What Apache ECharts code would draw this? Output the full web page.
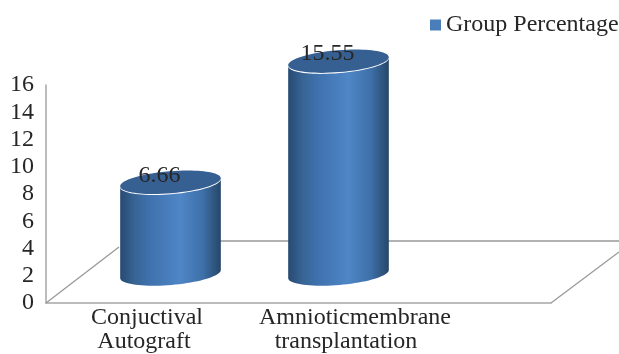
<!DOCTYPE html>
<html>
<head>
<meta charset="utf-8">
<style>html,body{margin:0;padding:0;background:#fff}#chart{width:619px;height:354px}</style>
<script src="https://cdn.jsdelivr.net/npm/echarts@6/dist/echarts.min.js"></script>
</head>
<body>
<div id="chart"></div>
<script>
// Group percentage per graft type
const categories = ['Conjuctival\nAutograft', 'Amnioticmembrane\ntransplantation'];
const groupPercentage = [6.66, 15.55];
const yTicks = [0, 16];
const seriesName = 'Group Percentage';

const FONT = '"Liberation Serif", "Times New Roman", serif';
const TEXT = '#262626';
const CYL_W = 101;       // cylinder diameter
const CAP_RY = 11;       // cap half height
const TILT = -0.084;     // slope of the caps, radians

function ellipsePoint(cx, cy, t) {
  const a = CYL_W / 2 * Math.cos(t), b = CAP_RY * Math.sin(t);
  return [cx + a * Math.cos(TILT) - b * Math.sin(TILT), cy + a * Math.sin(TILT) + b * Math.cos(TILT)];
}

function renderCylinder(params, api) {
  const i = api.value(0), v = api.value(1);
  const base = api.coord([i, 0]), top = api.coord([i, v]);
  const pts = [];
  // lower half of the base, then back up over the top edge
  for (let k = 0; k <= 40; k++) pts.push(ellipsePoint(base[0], base[1], Math.PI - Math.PI * k / 40));
  for (let k = 0; k <= 40; k++) pts.push(ellipsePoint(top[0], top[1], Math.PI * k / 40));
  return {
    type: 'group',
    children: [
      {
        type: 'polygon',
        shape: { points: pts },
        style: {
          fill: new echarts.graphic.LinearGradient(0, 0, 1, 0, [
            { offset: 0, color: '#274a72' },
            { offset: 0.14, color: '#376494' },
            { offset: 0.3, color: '#3f72ae' },
            { offset: 0.6, color: '#4f86c6' },
            { offset: 0.82, color: '#3e70a9' },
            { offset: 1, color: '#264668' }
          ])
        }
      },
      {
        type: 'ellipse',
        shape: { cx: 0, cy: 0, rx: CYL_W / 2, ry: CAP_RY },
        x: top[0], y: top[1] - 1, rotation: -TILT,
        style: { fill: '#376092' }
      },
      {
        type: 'text',
        x: top[0] - 11, y: top[1] - 8,
        style: { text: v.toFixed(2), font: '24px ' + FONT, fill: TEXT, align: 'center', verticalAlign: 'middle' }
      }
    ]
  };
}

const chart = echarts.init(document.getElementById('chart'), null, { renderer: 'canvas' });
chart.setOption({
  animation: false,
  backgroundColor: '#fff',
  legend: {
    show: true, left: 430, top: 13, padding: 0, itemWidth: 11, itemHeight: 11, itemGap: 4, selectedMode: false,
    data: [{ name: seriesName, icon: 'rect' }],
    textStyle: { fontFamily: FONT, fontSize: 24, color: TEXT }
  },
  color: ['#4a7ebb'],
  grid: [
    // front plane carrying the value labels
    { left: 46, width: 505, top: 85, height: 218 },
    // plane the category labels sit on
    { left: 43, width: 416, top: 85, height: 218 },
    // plane the cylinders stand on, set back into the floor
    { left: 86.5, width: 336, top: 56, height: 218 }
  ],
  xAxis: [
    { gridIndex: 0, type: 'category', data: ['', ''], axisLabel: { show: false }, axisTick: { show: false },
      axisLine: { show: true, lineStyle: { color: '#a6a6a6', width: 1.5 } } },
    { gridIndex: 1, type: 'category', data: categories, axisTick: { show: false }, axisLine: { show: false },
      axisLabel: {
        fontFamily: FONT, fontSize: 24, color: TEXT, lineHeight: 24.5, margin: 6, interval: 0,
        // trailing spaces pull the second line slightly left of the first
        formatter: (value, index) => value + ' '.repeat(index === 0 ? 1 : 3)
      } },
    { gridIndex: 2, type: 'category', data: categories, show: false }
  ],
  yAxis: [
    { gridIndex: 0, type: 'value', min: yTicks[0], max: yTicks[1], interval: 2, splitLine: { show: false }, axisTick: { show: false },
      axisLine: { show: true, lineStyle: { color: '#a6a6a6', width: 1.5 } },
      axisLabel: { fontFamily: FONT, fontSize: 24, color: TEXT, margin: 12 } },
    { gridIndex: 1, type: 'value', min: yTicks[0], max: yTicks[1], show: false },
    { gridIndex: 2, type: 'value', min: yTicks[0], max: yTicks[1], show: false }
  ],
  series: [
    {
      name: seriesName,
      type: 'custom',
      xAxisIndex: 2,
      yAxisIndex: 2,
      renderItem: renderCylinder,
      encode: { x: 0, y: 1 },
      data: groupPercentage.map((v, i) => [i, v]),
      z: 5
    }
  ],
  graphic: [
    // floor edges receding from the front plane
    { type: 'polyline', z: 1, shape: { points: [[46, 303], [119, 247]] }, style: { stroke: '#999', lineWidth: 1.3, fill: null } },
    { type: 'polyline', z: 1, shape: { points: [[150, 241], [619, 241]] }, style: { stroke: '#999', lineWidth: 1.6, fill: null } },
    { type: 'polyline', z: 1, shape: { points: [[551, 303], [619, 252]] }, style: { stroke: '#999', lineWidth: 1.3, fill: null } }
  ]
});
</script>
</body>
</html>
